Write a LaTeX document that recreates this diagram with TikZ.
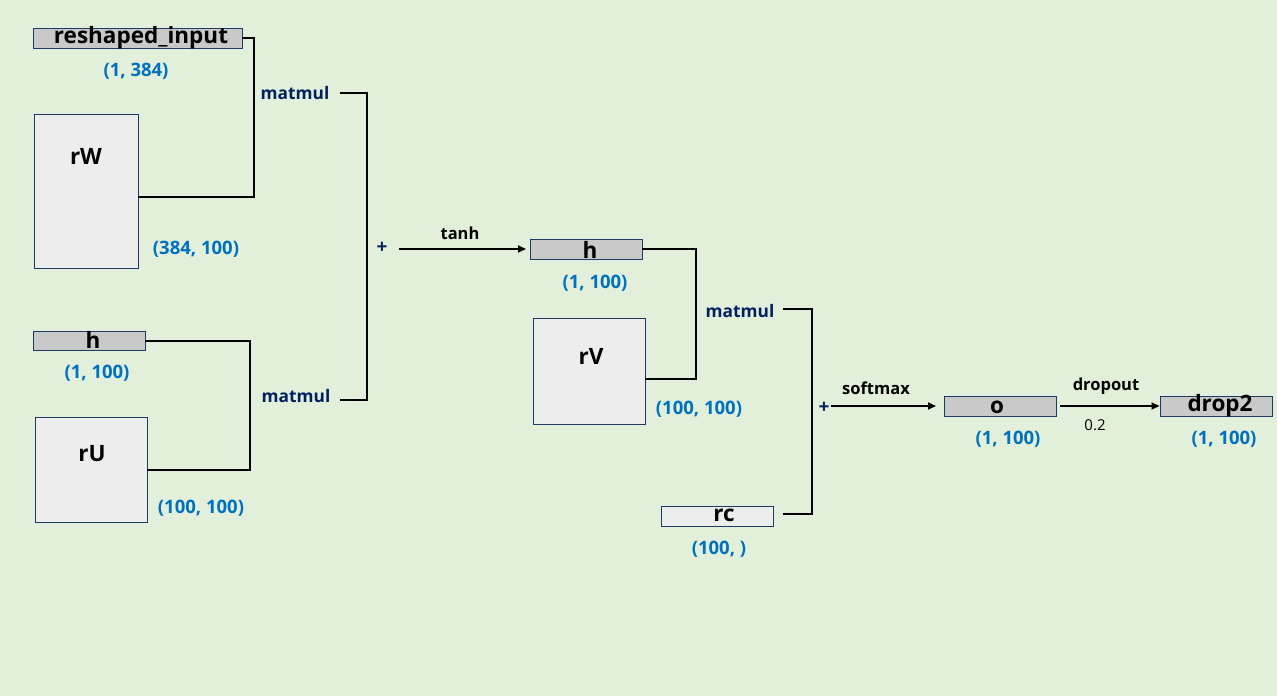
\documentclass[tikz,border=0pt]{standalone}
\usepackage{fontspec}
\setmainfont{Open Sans}
\usetikzlibrary{arrows.meta}
\definecolor{bg}{HTML}{E2EFDA}
\definecolor{navy}{HTML}{1F3864}
\definecolor{dnavy}{HTML}{002060}
\definecolor{blu}{HTML}{0070C0}
\definecolor{gbox}{HTML}{C9C9C9}
\definecolor{lbox}{HTML}{EDEDED}
\begin{document}
\begin{tikzpicture}[x=1pt,y=-1pt,
  gbx/.style={draw=navy, line width=1pt, fill=gbox, inner sep=0pt},
  lbx/.style={draw=navy, line width=1pt, fill=lbox, inner sep=0pt},
  lbl/.style={inner sep=0pt, font=\bfseries\fontsize{22.5}{26}\selectfont},
  dim/.style={inner sep=0pt, text=blu, font=\bfseries\fontsize{18.5}{22}\selectfont},
  op/.style={inner sep=0pt, text=dnavy, font=\bfseries\fontsize{17.3}{20}\selectfont},
  act/.style={inner sep=0pt, font=\bfseries\fontsize{16.5}{19}\selectfont},
  conn/.style={line width=2pt, line cap=rect},
  arr/.style={line width=1.7pt, -{Triangle[length=8pt,width=7pt]}}]
\fill[bg] (0,0) rectangle (1277,696);
\useasboundingbox (0,0) rectangle (1277,696);
% left column
\node[gbx, minimum width=209, minimum height=20] (ri) at (137.5,38) {};
\node[lbl] (rit) at (141,38) {reshaped\_input};
\node[dim] (ridim) at (136,71) {(1, 384)};
\node[lbx, minimum width=104, minimum height=154] (rW) at (86,191) {};
\node[lbl] (rWt) at (86,156) {rW};
\node[dim] (rWdim) at (196,249) {(384, 100)};
\node[gbx, minimum width=112, minimum height=19] (h1) at (89,340.5) {};
\node[lbl] (h1t) at (93,340) {h};
\node[dim] (h1dim) at (97,373) {(1, 100)};
\node[lbx, minimum width=112, minimum height=105] (rU) at (91,469.5) {};
\node[lbl] (rUt) at (92,454) {rU};
\node[dim] (rUdim) at (201,508) {(100, 100)};
\draw[conn] (ri.east) -- (254,38) -- (254,197) -- (rW.east |- 0,197);
\draw[conn] (h1.east) -- (250,340.5) -- (250,470) -- (rU.east |- 0,470);
\node[op] (mm1) at (295,93) {matmul};
\node[op] (mm2) at (296,396) {matmul};
\draw[conn] (341,93) -- (367,93) -- (367,400) -- (341,400);
\node[op, font=\bfseries\fontsize{19}{22}\selectfont] (plus1) at (382,248) {+};
% middle
\node[gbx, minimum width=112, minimum height=20] (h2) at (586,249) {};
\node[lbl] (h2t) at (590,250) {h};
\node[dim] (h2dim) at (595,283) {(1, 100)};
\draw[arr] (399,249) -- (h2.west -| 526,0);
\node[act] (tanh) at (460,233) {tanh};
\node[lbx, minimum width=112, minimum height=106] (rV) at (589,371) {};
\node[lbl] (rVt) at (591,356) {rV};
\node[dim] (rVdim) at (699,409) {(100, 100)};
\draw[conn] (h2.east) -- (696,249) -- (696,379) -- (rV.east |- 0,379);
\node[op] (mm3) at (740,311) {matmul};
\node[lbx, minimum width=112, minimum height=20] (rc) at (717,516) {};
\node[lbl] (rct) at (724,515) {rc};
\node[dim] (rcdim) at (719,549) {(100, )};
\draw[conn] (784,309) -- (812,309) -- (812,514) -- (784,514);
\node[op, font=\bfseries\fontsize{19}{22}\selectfont] (plus2) at (824,408) {+};
% right
\node[gbx, minimum width=112, minimum height=20] (o) at (1000,406) {};
\node[lbl] (ot) at (997,407) {o};
\node[dim] (odim) at (1008,439) {(1, 100)};
\draw[arr] (831,406) -- (o.west -| 936,0);
\node[act] (soft) at (876,388) {softmax};
\node[gbx, minimum width=112, minimum height=20] (d2) at (1216,406) {};
\node[lbl] (d2t) at (1220,406) {drop2};
\node[dim] (d2dim) at (1224,439) {(1, 100)};
\draw[arr] (1060,406) -- (d2.west);
\node[act] (drop) at (1106,386) {dropout};
\node[inner sep=0pt, font=\fontsize{15}{18}\selectfont] (p2) at (1095,425) {0.2};
\end{tikzpicture}
\end{document}
